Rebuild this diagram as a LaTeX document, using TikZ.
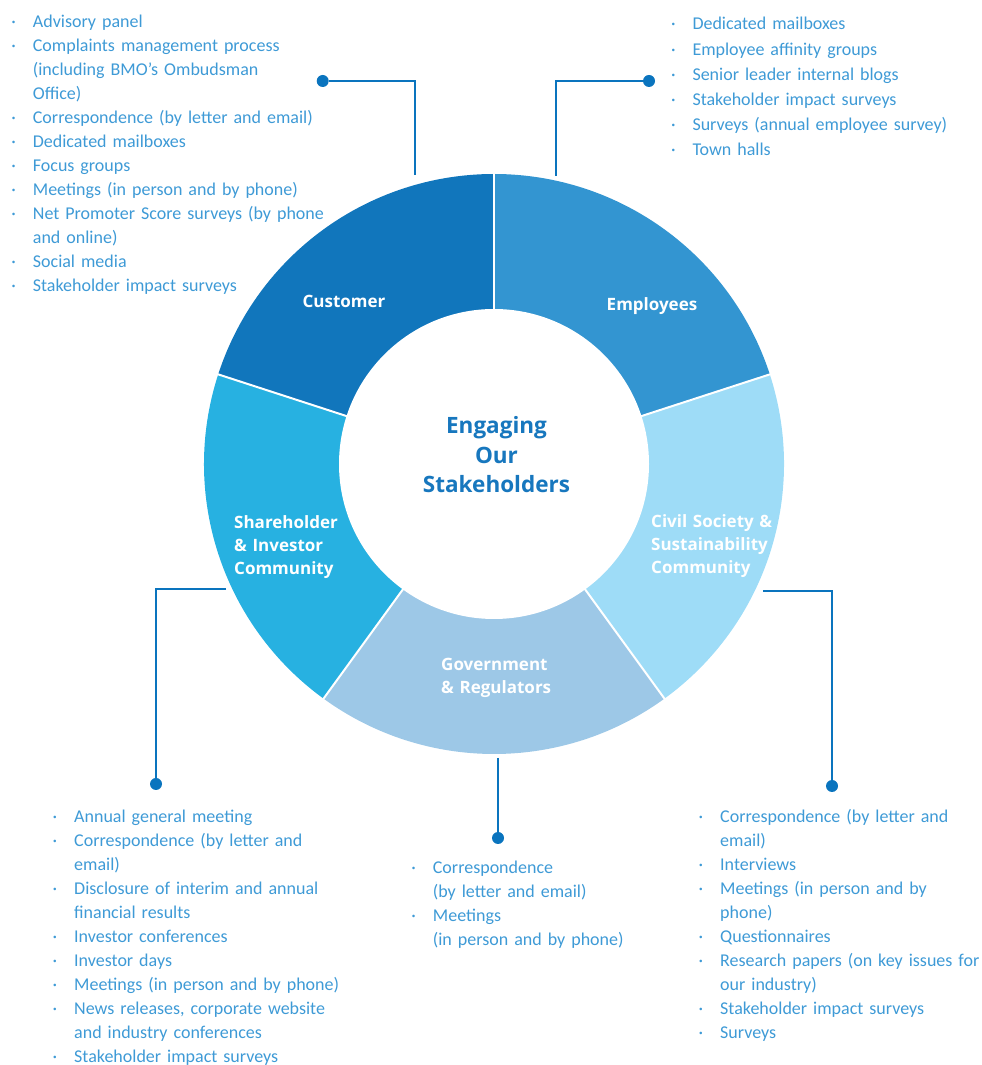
\documentclass[tikz,border=0pt]{standalone}
\usepackage{fontspec}
\setmainfont{Carlito}
\newfontfamily\lblfont{Open Sans}
\usetikzlibrary{positioning}

\definecolor{custcol}{RGB}{17,118,188}
\definecolor{empcol}{RGB}{51,149,209}
\definecolor{civcol}{RGB}{158,220,247}
\definecolor{govcol}{RGB}{157,200,231}
\definecolor{sharecol}{RGB}{39,177,225}
\definecolor{titlecol}{RGB}{23,119,190}
\definecolor{listcol}{RGB}{62,154,214}
\definecolor{linecol}{RGB}{10,116,190}

\newcommand{\itm}{\makebox[21.5pt][l]{·}}
\newcommand{\cnt}{\hspace*{21.5pt}}

\begin{document}
\begin{tikzpicture}[x=1pt, y=1pt,
    seglbl/.style={text=white, inner sep=0, anchor=base west, align=left,
        font=\lblfont\bfseries\fontsize{17}{23}\selectfont},
    lst/.style={anchor=base west, inner sep=0, text width=#1, align=left,
        text=listcol, font=\fontsize{18}{24}\selectfont},
    lst/.default=340pt,
    calldot/.style={circle, fill=linecol, inner sep=0, minimum size=12pt},
    callline/.style={draw=linecol, line width=2pt}]

    \useasboundingbox (0,0) rectangle (982,1065);

    % ring
    \coordinate (ctr) at (494,601);
    \foreach \a/\col in {90/custcol, 162/sharecol, 234/govcol, 306/civcol, 18/empcol}
        \fill[\col] (ctr) -- ++(\a:290) arc[start angle=\a, delta angle=72, radius=290] -- cycle;
    \foreach \a in {18,90,162,234,306}
        \draw[white, line width=2pt] (ctr) -- ++(\a:292);
    \fill[white] (ctr) circle[radius=155];

    %nodes
    \node[anchor=base, inner sep=0, text width=220pt, align=center, text=titlecol,
        font=\lblfont\bfseries\fontsize{22.5}{29.5}\selectfont] (title) at (496.5,631)
        {Engaging\\Our\\Stakeholders};
    \node[seglbl, anchor=base] (custlbl) at (344,757.5) {Customer};
    \node[seglbl, anchor=base] (emplbl) at (652,754) {Employees};
    \node[seglbl, text width=140pt] (civlbl) at (651,537.5) {Civil Society \&\\Sustainability\\Community};
    \node[seglbl, text width=130pt] (govlbl) at (441,394.5) {Government\\\& Regulators};
    \node[seglbl, text width=120pt] (sharelbl) at (234,536.5) {Shareholder\\\& Investor\\Community};

    \node[lst] (custlist) at (11.2,1037.7) {%
        \itm Advisory panel\\
        \itm Complaints management process\\
        \cnt (including BMO’s Ombudsman\\
        \cnt Office)\\
        \itm Correspondence (by letter and email)\\
        \itm Dedicated mailboxes\\
        \itm Focus groups\\
        \itm Meetings (in person and by phone)\\
        \itm Net Promoter Score surveys (by phone\\
        \cnt and online)\\
        \itm Social media\\
        \itm Stakeholder impact surveys};
    \node[lst=280pt, font=\fontsize{18}{25.2}\selectfont] (emplist) at (670.8,1035) {%
        \itm Dedicated mailboxes\\
        \itm Employee affinity groups\\
        \itm Senior leader internal blogs\\
        \itm Stakeholder impact surveys\\
        \itm Surveys (annual employee survey)\\
        \itm Town halls};
    \node[lst=320pt] (sharelist) at (52.5,242.7) {%
        \itm Annual general meeting\\
        \itm Correspondence (by letter and\\
        \cnt email)\\
        \itm Disclosure of interim and annual\\
        \cnt financial results\\
        \itm Investor conferences\\
        \itm Investor days\\
        \itm Meetings (in person and by phone)\\
        \itm News releases, corporate website\\
        \cnt and industry conferences\\
        \itm Stakeholder impact surveys};
    \node[lst=260pt] (govlist) at (411.2,191) {%
        \itm Correspondence\\
        \cnt (by letter and email)\\
        \itm Meetings\\
        \cnt (in person and by phone)};
    \node[lst=320pt] (civlist) at (698.5,242.7) {%
        \itm Correspondence (by letter and\\
        \cnt email)\\
        \itm Interviews\\
        \itm Meetings (in person and by\\
        \cnt phone)\\
        \itm Questionnaires\\
        \itm Research papers (on key issues for\\
        \cnt our industry)\\
        \itm Stakeholder impact surveys\\
        \itm Surveys};

    \node[calldot] (custdot) at (322.7,984) {};
    \coordinate (custend) at (414.7,890);
    \node[calldot] (empdot) at (649,984) {};
    \coordinate (empend) at (556,889);
    \coordinate (sharend) at (226,476);
    \node[calldot] (sharedot) at (156,281) {};
    \coordinate (govend) at (498,307);
    \node[calldot] (govdot) at (498,227) {};
    \coordinate (civend) at (763,474);
    \node[calldot] (civdot) at (832,279) {};

    % edges
    \draw[callline] (custdot) -| (custend);
    \draw[callline] (empdot) -| (empend);
    \draw[callline] (sharend) -| (sharedot);
    \draw[callline] (govend) -- (govdot);
    \draw[callline] (civend) -| (civdot);
\end{tikzpicture}
\end{document}
